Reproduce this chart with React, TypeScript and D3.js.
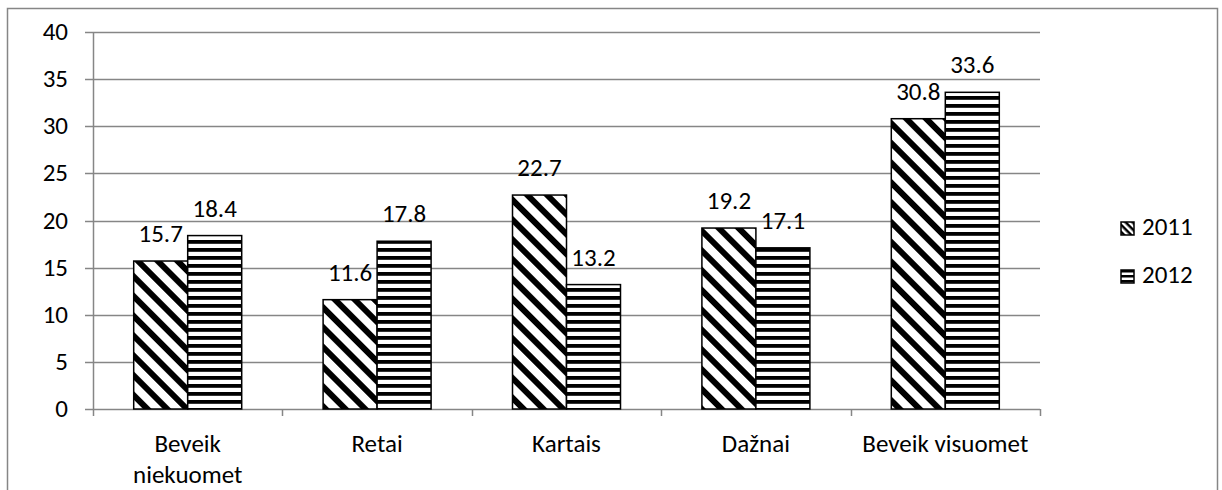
import * as d3 from 'd3';

const categories = ['Beveik niekuomet', 'Retai', 'Kartais', 'Dažnai', 'Beveik visuomet'];
const categoryLines = [['Beveik', 'niekuomet'], ['Retai'], ['Kartais'], ['Dažnai'], ['Beveik visuomet']];
const series2011 = [15.7, 11.6, 22.7, 19.2, 30.8];
const series2012 = [18.4, 17.8, 13.2, 17.1, 33.6];
const yTicks = [0, 5, 10, 15, 20, 25, 30, 35, 40];
const seriesNames = ['2011', '2012'];

const W = 1222;
const H = 490;
const font = "Carlito, Calibri, 'Open Sans', sans-serif";

export default function App() {
  const left = 93;
  const right = 1040;
  const top = 32;
  const bottom = 409;

  const x = d3.scaleBand<string>().domain(categories).range([left, right]);
  const y = d3.scaleLinear().domain([0, 40]).range([bottom, top]);
  const barW = 54;
  const grid = '#868686';
  const values = [series2011, series2012];
  const fills = ['url(#diag)', 'url(#horiz)'];
  const fs = 25;

  return (
    <div style={{ position: 'absolute', left: 0, top: 0 }}>
      <svg width={W} height={H} style={{ display: 'block', fontFamily: font }}>
        <defs>
          <pattern id="diag" patternUnits="userSpaceOnUse" width="14" height="14" patternTransform="rotate(45)">
            <rect width="14" height="14" fill="#fff" />
            <rect width="14" height="6" fill="#000" />
          </pattern>
          <pattern id="horiz" patternUnits="userSpaceOnUse" width="8" height="8">
            <rect width="8" height="8" fill="#fff" />
            <rect y="0" width="8" height="3.8" fill="#000" />
          </pattern>
          <pattern id="diagS" patternUnits="userSpaceOnUse" width="5" height="5" patternTransform="rotate(45)">
            <rect width="5" height="5" fill="#fff" />
            <rect width="5" height="2.5" fill="#000" />
          </pattern>
          <pattern id="horizS" patternUnits="userSpaceOnUse" width="5" height="5">
            <rect width="5" height="5" fill="#fff" />
            <rect width="5" height="2.5" fill="#000" />
          </pattern>
        </defs>
        <rect x={0} y={0} width={W} height={H} fill="#fff" />
        <rect x={7.5} y={8.5} width={1210} height={H} fill="none" stroke="#868686" strokeWidth={1.5} />

        {yTicks.map((t) => (
          <g key={t}>
            <line x1={left - 8} x2={right} y1={Math.round(y(t)) + 0.5} y2={Math.round(y(t)) + 0.5} stroke={grid} strokeWidth={1.5} />
            <text x={68} y={y(t) + 8} textAnchor="end" fontSize={fs} fill="#000">{t}</text>
          </g>
        ))}
        <line x1={left + 0.5} x2={left + 0.5} y1={top} y2={bottom} stroke={grid} strokeWidth={1.5} />
        {[...categories.map((c) => x(c) as number), right].map((p, i) => (
          <line key={i} x1={Math.round(p) + 0.5} x2={Math.round(p) + 0.5} y1={bottom} y2={bottom + 7} stroke={grid} strokeWidth={1.5} />
        ))}

        {categories.map((c, i) => {
          const cx = (x(c) as number) + x.bandwidth() / 2;
          return (
            <g key={c}>
              {values.map((vals, s) => {
                const bx = cx - barW + s * barW;
                const by = y(vals[i]);
                return (
                  <g key={s}>
                    <rect x={bx} y={by} width={barW} height={bottom - by} fill={fills[s]} stroke="#000" strokeWidth={1.5} />
                    <text x={bx + barW / 2} y={by - 19} textAnchor="middle" fontSize={fs} fill="#000">
                      {vals[i].toFixed(1)}
                    </text>
                  </g>
                );
              })}
              {categoryLines[i].map((ln, k) => (
                <text key={k} x={cx} y={452 + k * 31} textAnchor="middle" fontSize={fs} fill="#000">{ln}</text>
              ))}
            </g>
          );
        })}

        {seriesNames.map((n, s) => (
          <g key={n}>
            <rect x={1121} y={222 + s * 48} width={13} height={13} fill={s === 0 ? 'url(#diagS)' : 'url(#horizS)'} stroke="#000" strokeWidth={1.5} />
            <text x={1142} y={235 + s * 48} fontSize={fs} fill="#000">{n}</text>
          </g>
        ))}
      </svg>
    </div>
  );
}
